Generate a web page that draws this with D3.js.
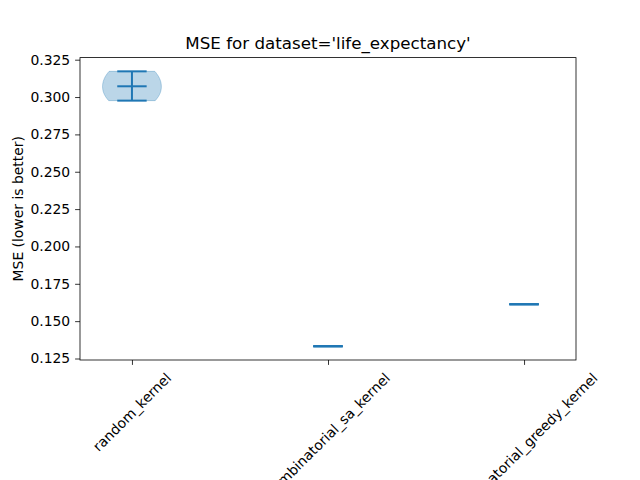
<!DOCTYPE html>
<html>
<head>
<meta charset="utf-8">
<script src="https://cdn.jsdelivr.net/npm/d3@7"></script>
<style>
  body { margin: 0; background: #fff; }
  svg { display: block; font-family: "DejaVu Sans", sans-serif; }
</style>
</head>
<body>
<svg id="chart" width="640" height="480"></svg>
<script>
// methods on the x axis, one violin each
const methods = ["random_kernel", "combinatorial_sa_kernel", "combinatorial_greedy_kernel"];
// MSE per run
const randomKernelMse = [0.2976, 0.3072, 0.3172];
const saKernelMse = [0.1332, 0.1332, 0.1332];
const greedyKernelMse = [0.1613, 0.1613, 0.1613];
const yTicks = [0.125, 0.150, 0.175, 0.200, 0.225, 0.250, 0.275, 0.300, 0.325];

const samples = [randomKernelMse, saKernelMse, greedyKernelMse];
const violinWidth = 0.3;
const blue = "#1f77b4";

const svg = d3.select('#chart');
const margin = { left: 80, right: 64, top: 57.6, bottom: 120 };
const W = 640 - margin.left - margin.right;
const H = 480 - margin.top - margin.bottom;
const g = svg.append('g').attr('transform', `translate(${margin.left},${margin.top})`);

// x limits like matplotlib: violin extent plus 5% margin
const xlo = 1 - violinWidth / 2, xhi = methods.length + violinWidth / 2;
const xpad = (xhi - xlo) * 0.05;
const x = d3.scaleLinear().domain([xlo - xpad, xhi + xpad]).range([0, W]);

const all = samples.flat();
const ylo = d3.min(all), yhi = d3.max(all);
const ypad = (yhi - ylo) * 0.05;
const y = d3.scaleLinear().domain([ylo - ypad, yhi + ypad]).range([H, 0]);

// gaussian kde, scott bandwidth, scaled so widest point = violinWidth/2
// returns null when every run gave the same value (nothing to draw)
const kdeProfile = (vals) => {
    const n = vals.length;
    const lo = d3.min(vals), hi = d3.max(vals);
    const sd = n > 1 ? d3.deviation(vals) : 0;
    if (!sd) return null;
    const bw = sd * Math.pow(n, -0.2);
    const pts = d3.range(100).map(i => lo + (hi - lo) * i / 99);
    const dens = pts.map(p => d3.sum(vals, v => Math.exp(-0.5 * ((p - v) / bw) ** 2)));
    const m = d3.max(dens);
    return pts.map((p, i) => [p, dens[i] / m * violinWidth / 2]);
};

samples.forEach((vals, i) => {
    const pos = i + 1;
    const prof = kdeProfile(vals);
    if (prof) {
        const area = d3.area()
            .y(d => y(d[0]))
            .x0(d => x(pos - d[1]))
            .x1(d => x(pos + d[1]));
        g.append('path')
            .attr('d', area(prof))
            .attr('fill', blue)
            .attr('fill-opacity', 0.3)
            .attr('stroke', blue)
            .attr('stroke-opacity', 0.3)
            .attr('stroke-width', 1);
    }

    const lo = d3.min(vals), hi = d3.max(vals), med = d3.median(vals);
    const half = violinWidth / 4;
    g.append('line')
        .attr('x1', x(pos)).attr('x2', x(pos))
        .attr('y1', y(lo)).attr('y2', y(hi))
        .attr('stroke', blue).attr('stroke-width', 2);
    [lo, hi, med].forEach(v => {
        g.append('line')
            .attr('x1', x(pos - half)).attr('x2', x(pos + half))
            .attr('y1', y(v)).attr('y2', y(v))
            .attr('stroke', blue).attr('stroke-width', 2);
    });
});

// axes
const yAxis = g.append('g')
    .call(d3.axisLeft(y).tickValues(yTicks).tickFormat(d3.format('.3f')).tickSizeOuter(0).tickSize(4.9).tickPadding(4.9));
const xAxis = g.append('g')
    .attr('transform', `translate(0,${H})`)
    .call(d3.axisBottom(x).tickValues([1, 2, 3]).tickFormat('').tickSizeOuter(0).tickSize(4.9));
[yAxis, xAxis].forEach(a => {
    a.select('.domain').remove();
    a.selectAll('line').attr('stroke', '#000').attr('stroke-width', 0.8);
    a.selectAll('text').attr('font-size', 13.9).attr('fill', '#000').attr('font-family', '"DejaVu Sans"');
});

g.append('rect')
    .attr('width', W).attr('height', H)
    .attr('fill', 'none').attr('stroke', '#000').attr('stroke-width', 0.8);

// rotated x tick labels, bbox centred under tick (long ones run off the bottom, as in the original)
methods.forEach((m, i) => {
    const t = g.append('text')
        .attr('font-size', 13.9)
        .attr('text-anchor', 'middle')
        .attr('dominant-baseline', 'central')
        .text(m);
    const w = t.node().getComputedTextLength();
    const h = 16.2;
    const half = (w + h) / (2 * Math.SQRT2);
    t.attr('transform', `translate(${x(i + 1)},${H + 9.7 + half}) rotate(-45)`);
});

svg.append('text')
    .attr('x', margin.left + W / 2).attr('y', margin.top - 8.3)
    .attr('text-anchor', 'middle')
    .attr('font-size', 16.7)
    .text("MSE for dataset='life_expectancy'");

svg.append('text')
    .attr('transform', `translate(${18},${margin.top + H / 2}) rotate(-90)`)
    .attr('text-anchor', 'middle')
    .attr('dominant-baseline', 'central')
    .attr('font-size', 13.9)
    .text('MSE (lower is better)');
</script>
</body>
</html>
